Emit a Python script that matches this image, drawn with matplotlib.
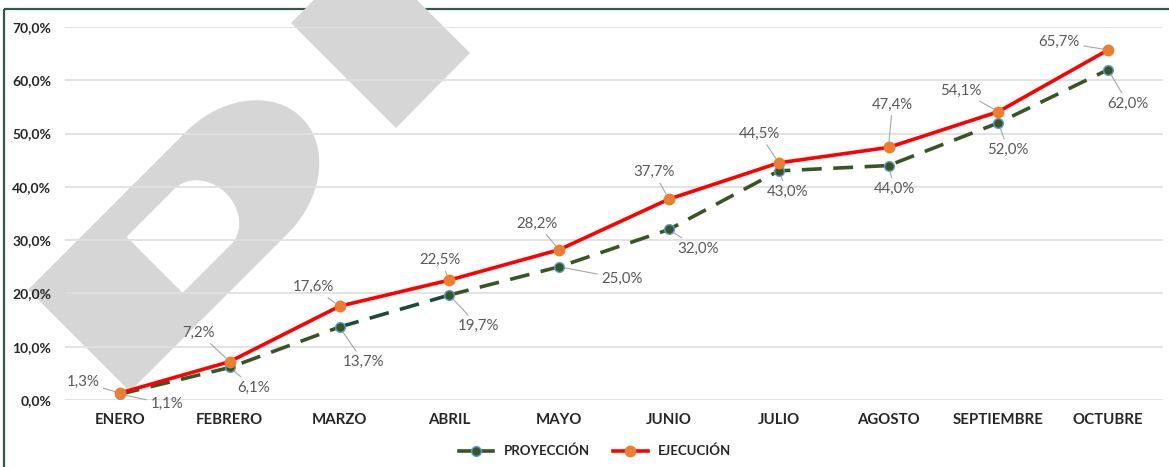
import numpy as np
import matplotlib
matplotlib.use('Agg')
import matplotlib.pyplot as plt
from matplotlib.patches import Polygon, Rectangle
from matplotlib.transforms import Affine2D
from matplotlib.lines import Line2D

plt.rcParams['font.family'] = ['Lato', 'DejaVu Sans']

meses = ['ENERO', 'FEBRERO', 'MARZO', 'ABRIL', 'MAYO', 'JUNIO',
         'JULIO', 'AGOSTO', 'SEPTIEMBRE', 'OCTUBRE']
proyeccion = [1.1, 6.1, 13.7, 19.7, 25.0, 32.0, 43.0, 44.0, 52.0, 62.0]
ejecucion = [1.3, 7.2, 17.6, 22.5, 28.2, 37.7, 44.5, 47.4, 54.1, 65.7]
yticks = [0, 10, 20, 30, 40, 50, 60, 70]

# label offsets in pixels (dx, dy)
off_ejec = [(-37, 11), (-31, 29), (-26, 19), (-9, 20), (-22, 26),
            (-15, 27), (-19, 29), (4, 43), (-37, 21), (-49, 8)]
off_proy = [(47, -10), (24, -20), (24, -35), (29, -31), (63, -12),
            (29, -19), (9, -21), (6, -23), (10, -27), (20, -34)]

W, H = 1169, 467
fig = plt.figure(figsize=(W / 100, H / 100), dpi=100)
px = Affine2D().scale(1 / W, -1 / H).translate(0, 1) + fig.transFigure

# frame
fig.patches.append(Rectangle((4, 9), 1200, 500, transform=px, fill=False,
                             edgecolor='#2F5A4C', lw=1.6, zorder=0))

# watermark
gray = '#D6D6D6'


def d_shape(c, hw, s, a, n=60):
    c = np.array(c, float)
    t = np.array([1, 1]) / np.sqrt(2)
    nn = np.array([1, -1]) / np.sqrt(2)
    pts = [c - hw * t, c - hw * t + s * nn]
    for th in np.linspace(np.pi, 0, n):
        pts.append(c + s * nn + np.cos(th) * hw * t + np.sin(th) * a * nn)
    pts.append(c + hw * t)
    return np.array(pts)


fig.patches.append(Polygon(d_shape((79, 340.5), 72, 223, 92), closed=True,
                           transform=px, color=gray, lw=0, zorder=1))
hole_c = np.array([79, 340.5]) + 107 * np.array([1, -1]) / np.sqrt(2)
fig.patches.append(Polygon(d_shape(hole_c, 39.6, 68, 33), closed=True,
                           transform=px, color='white', lw=0, zorder=1))
fig.patches.append(Polygon([(291, 23), (396, 128), (470, 53), (365, -52)],
                           closed=True, transform=px, color=gray, lw=0, zorder=1))

ax = fig.add_axes([65 / W, 1 - 400 / H, 1098 / W, 373 / H])
ax.set_zorder(2)
ax.patch.set_alpha(0)
x = np.arange(len(meses))

verde = '#375623'
dash = dict(lw=2.6, dashes=(5.5, 3.2), zorder=3)
ax.plot(x[:3], proyeccion[:3], color=verde, **dash)
ax.plot(x[2:4], proyeccion[2:4], color='#1E4A3C', **dash)
ax.plot(x[3:], proyeccion[3:], color=verde, **dash)
ax.plot(x, proyeccion, ls='none', marker='o', ms=7, mfc=verde,
        mec='#5B9BD5', mew=1.0, zorder=4)
ax.plot(x, ejecucion, color='#FF0000', lw=2.6, marker='o', ms=7.5,
        mfc='#ED7D31', mec='#ED7D31', zorder=5)

lead = dict(arrowstyle='-', color='#A6A6A6', lw=0.8, shrinkA=1, shrinkB=4)
for i in range(len(meses)):
    ax.annotate(f'{ejecucion[i]:.1f}%'.replace('.', ','), (x[i], ejecucion[i]),
                xytext=off_ejec[i], textcoords='offset pixels',
                ha='center', va='center', fontsize=10.8, color='#595959',
                arrowprops=lead, zorder=6)
    ax.annotate(f'{proyeccion[i]:.1f}%'.replace('.', ','), (x[i], proyeccion[i]),
                xytext=off_proy[i], textcoords='offset pixels',
                ha='center', va='center', fontsize=10.8, color='#595959',
                arrowprops=lead, zorder=6)

ax.set_xlim(-0.5, len(meses) - 0.5)
ax.set_ylim(0, 70)
ax.set_xticks(x)
ax.set_xticklabels(meses)
ax.set_yticks(yticks)
ax.set_yticklabels([f'{v:.1f}%'.replace('.', ',') for v in yticks])
ax.tick_params(length=0, labelcolor='#262626')
ax.tick_params(axis='x', pad=9, labelsize=10.8)
ax.tick_params(axis='y', pad=10, labelsize=10)
for lab in ax.get_xticklabels() + ax.get_yticklabels():
    lab.set_fontweight('bold')
ax.grid(axis='y', color='#E0E0E0', lw=1.3, zorder=0)
for sp in ax.spines.values():
    sp.set_visible(False)

handles = [Line2D([], [], color=verde, lw=2.6, marker='o', ms=7, mfc=verde,
                  mec='#5B9BD5', mew=1.0),
           Line2D([], [], color='#FF0000', lw=2.6, marker='o', ms=7.5,
                  mfc='#ED7D31', mec='#ED7D31')]
leg = fig.legend(handles, ['PROYECCIÓN', 'EJECUCIÓN'], loc='center',
                 bbox_to_anchor=(595 / W, 1 - 451 / H), ncol=2,
                 frameon=False, handlelength=2.6, columnspacing=1.8,
                 prop=dict(size=9.5, weight='bold'))
for t in leg.get_texts():
    t.set_color('#262626')

fig.savefig('out.png', dpi=100)
